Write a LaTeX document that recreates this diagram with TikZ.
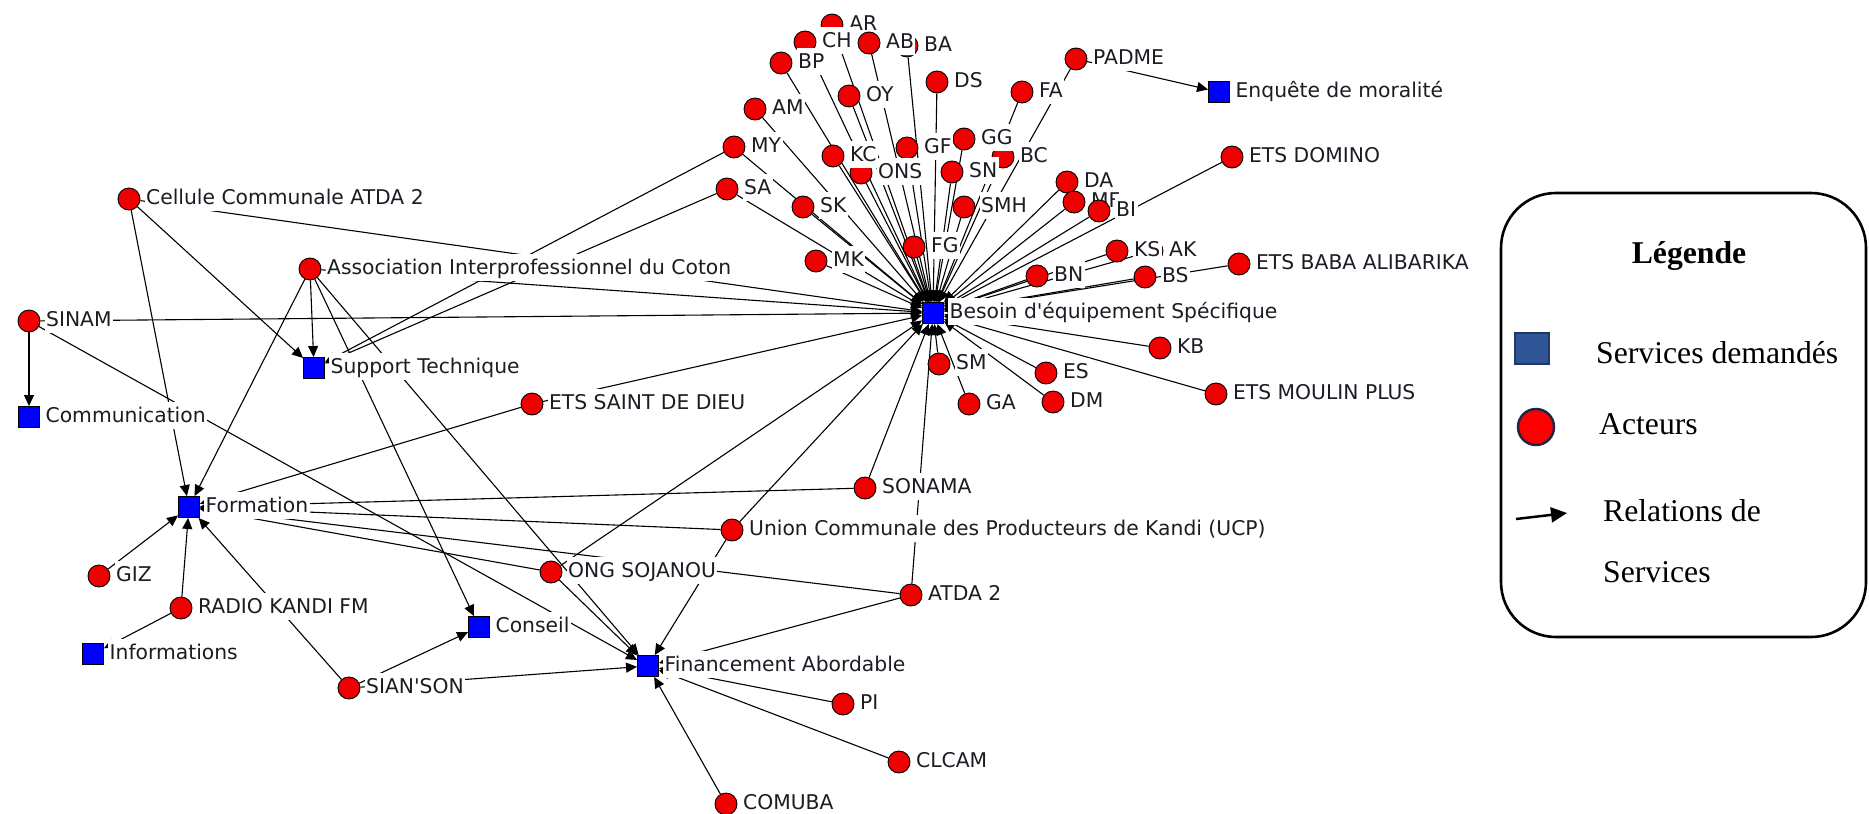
\documentclass[tikz,border=0pt]{standalone}
\usepackage{fontspec}
\setmainfont{DejaVu Sans}
\newfontfamily\legendfont{Liberation Serif}
\usetikzlibrary{arrows.meta}
\pgfdeclarelayer{edges}
\pgfsetlayers{edges,main}

\definecolor{labelink}{RGB}{28,28,36}
\definecolor{actorred}{RGB}{240,0,0}
\definecolor{serviceblue}{RGB}{0,0,255}
\definecolor{legendblue}{RGB}{47,85,151}
\definecolor{legendedge}{RGB}{32,56,100}
\definecolor{legendring}{RGB}{30,40,70}

\tikzset{
  actor/.style={circle, draw=black, line width=0.9pt, fill=actorred,
    minimum size=22pt, inner sep=0pt},
  service/.style={rectangle, draw=black, line width=0.9pt, fill=serviceblue,
    minimum size=21pt, inner sep=0pt},
  lab/.style={anchor=west, fill=white, inner sep=1.5pt, text height=19pt,
    text depth=5pt, font=\fontsize{20.3}{24}\selectfont, text=labelink},
  rel/.style={line width=1.1pt, draw=black,
    -{Triangle[length=11pt,width=10pt]}},
  legtext/.style={anchor=west, inner sep=0pt, text height=21pt, text depth=0pt,
    font=\legendfont\fontsize{31.7}{36}\selectfont},
}

% an actor (red disc) or a service (blue square), each with its label
\newcommand\actornode[4]{%
  \node[actor] (#1) at (#2,#3) {};
  \node[lab] at ([xshift=4pt,yshift=2pt]#1.east) {#4};}
\newcommand\servicenode[4]{%
  \node[service] (#1) at (#2,#3) {};
  \node[lab] at ([xshift=4pt,yshift=2pt]#1.east) {#4};}

\begin{document}
\begin{tikzpicture}[x=1pt,y=-1pt]
\useasboundingbox (0,0) rectangle (1869,814);

% ---- services
\servicenode{besoin}{933}{313}{Besoin d\textquotesingle équipement Spécifique}
\servicenode{enquete}{1219}{92}{Enquête de moralité}
\servicenode{support}{314}{368}{Support Technique}
\servicenode{comm}{29}{417}{Communication}
\servicenode{formation}{189}{507}{Formation}
\servicenode{info}{93}{654}{Informations}
\servicenode{conseil}{479}{627}{Conseil}
\servicenode{finance}{648}{666}{Financement Abordable}

% ---- actors around the equipment need
\actornode{AR}{832}{25}{AR}
\actornode{CH}{805}{42}{CH}
\actornode{BA}{907}{46}{BA}
\actornode{AB}{869}{43}{AB}
\actornode{BP}{781}{63}{BP}
\actornode{PADME}{1076}{59}{PADME}
\actornode{DS}{937}{82}{DS}
\actornode{FA}{1022}{92}{FA}
\actornode{OY}{849}{96}{OY}
\actornode{AM}{755}{109}{AM}
\actornode{BC}{1003}{157}{BC}
\actornode{GG}{964}{139}{GG}
\actornode{MY}{734}{147}{MY}
\actornode{GF}{907}{148}{GF}
\actornode{ONS}{861}{173}{ONS}
\actornode{KC}{833}{156}{KC}
\actornode{SN}{952}{172}{SN}
\actornode{ETSDOM}{1232}{157}{ETS DOMINO}
\actornode{DA}{1067}{182}{DA}
\actornode{SA}{727}{189}{SA}
\actornode{MF}{1074}{202}{MF}
\actornode{SK}{803}{207}{SK}
\actornode{SMH}{964}{207}{SMH}
\actornode{BI}{1099}{211}{BI}
\actornode{FG}{914}{247}{FG}
\actornode{AK}{1152}{251}{AK}
\actornode{KS}{1117}{251}{KS}
\actornode{ETSBABA}{1239}{264}{ETS BABA ALIBARIKA}
\actornode{MK}{816}{261}{MK}
\actornode{BN}{1037}{276}{BN}
\actornode{BS}{1145}{277}{BS}
\actornode{KB}{1160}{348}{KB}
\actornode{SM}{939}{364}{SM}
\actornode{ES}{1046}{373}{ES}
\actornode{ETSMOULIN}{1216}{394}{ETS MOULIN PLUS}
\actornode{DM}{1053}{402}{DM}
\actornode{GA}{969}{404}{GA}

% ---- other actors
\actornode{cellule}{129}{199}{Cellule Communale ATDA 2}
\actornode{assoc}{310}{269}{Association Interprofessionnel du Coton}
\actornode{SINAM}{29}{321}{SINAM}
\actornode{ETSSAINT}{532}{404}{ETS SAINT DE DIEU}
\actornode{SONAMA}{865}{488}{SONAMA}
\actornode{UCP}{732}{530}{Union Communale des Producteurs de Kandi (UCP)}
\actornode{ONG}{551}{572}{ONG SOJANOU}
\actornode{ATDA}{911}{595}{ATDA 2}
\actornode{GIZ}{99}{576}{GIZ}
\actornode{RADIO}{181}{608}{RADIO KANDI FM}
\actornode{SIANSON}{349}{688}{SIAN\textquotesingle SON}
\actornode{PI}{843}{704}{PI}
\actornode{CLCAM}{899}{762}{CLCAM}
\actornode{COMUBA}{726}{804}{COMUBA}

% ---- service relations
\begin{pgfonlayer}{edges}
  \foreach \s in {AR,CH,AB,BA,BP,DS,PADME,OY,FA,AM,MY,KC,GF,GG,BC,ONS,SN,SA,
      DA,MF,BI,SK,SMH,FG,MK,ETSDOM,KS,AK,BN,BS,ETSBABA,KB,SM,ES,GA,DM,
      ETSMOULIN,cellule,assoc,SINAM,ETSSAINT,SONAMA,UCP,ONG,ATDA}
    \draw[rel] (\s) -- (besoin);
  \foreach \s in {cellule,assoc,MY,SA}
    \draw[rel] (\s) -- (support);
  \foreach \s in {cellule,assoc,ETSSAINT,SONAMA,UCP,ONG,ATDA,GIZ,RADIO,SIANSON}
    \draw[rel] (\s) -- (formation);
  \foreach \s in {assoc,SIANSON}
    \draw[rel] (\s) -- (conseil);
  \foreach \s in {assoc,SINAM,UCP,ONG,ATDA,SIANSON,PI,CLCAM,COMUBA}
    \draw[rel] (\s) -- (finance);
  \draw[rel] (SINAM) -- (comm);
  \draw[rel] (RADIO) -- (info);
  \draw[rel] (PADME) -- (enquete);
\end{pgfonlayer}

% ---- legend
\draw[line width=2.6pt, rounded corners=55pt] (1501,193) rectangle (1866,637);
\node[font=\legendfont\bfseries\fontsize{31.7}{36}\selectfont, inner sep=0pt,
  text height=21pt, text depth=0pt] (legtitle) at (1689,253) {Légende};
\node[draw=legendedge, line width=2pt, fill=legendblue, minimum width=34pt,
  minimum height=31pt, inner sep=0pt] (legsq) at (1532,348) {};
\node[legtext] (legsqt) at (1596,353) {Services demandés};
\node[circle, draw=legendring, line width=2.5pt, fill=red, minimum size=36pt,
  inner sep=0pt] (legci) at (1536,427) {};
\node[legtext] (legcit) at (1599,424) {Acteurs};
\coordinate (legfrom) at (1516,519);
\coordinate (legto) at (1567,513);
\draw[line width=2.5pt, -{Triangle[length=16pt,width=15pt]}] (legfrom) -- (legto);
\node[legtext] (legrel) at (1603,511) {Relations de};
\node[legtext] (legrel2) at (1603,572) {Services};
\end{tikzpicture}
\end{document}
